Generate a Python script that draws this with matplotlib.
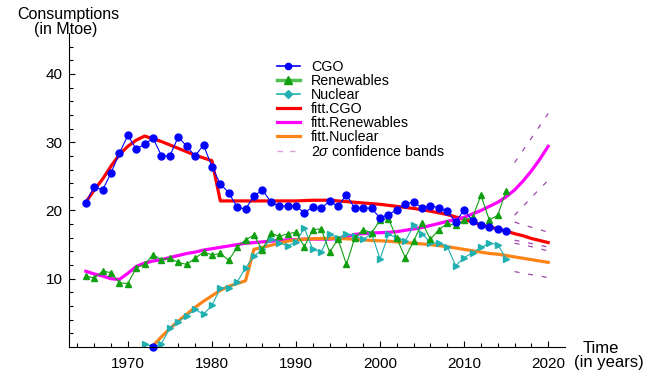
import numpy as np
import matplotlib
matplotlib.use('Agg')
import matplotlib.pyplot as plt
from matplotlib.lines import Line2D

plt.rcParams.update({'font.family': 'Liberation Sans', 'mathtext.fontset': 'custom',
                     'mathtext.rm': 'Liberation Sans', 'mathtext.it': 'Liberation Sans:italic'})

# Observed consumptions, 1965-2015
years = np.arange(1965, 2016)
cgo = [21.1, 23.5, 23.0, 25.5, 28.4, 31.0, 29.0, 29.7, 30.6, 28.0,
       28.0, 30.8, 29.4, 28.0, 29.6, 26.4, 23.9, 22.6, 20.5, 20.2,
       22.1, 23.0, 21.3, 20.6, 20.7, 20.6, 19.7, 20.5, 20.3, 21.4,
       20.6, 22.3, 20.3, 20.4, 20.3, 18.9, 19.4, 20.1, 21.0, 21.2,
       20.4, 20.7, 20.4, 19.9, 18.3, 20.1, 18.5, 17.8, 17.6, 17.3, 17.0]
renew = [10.4, 10.1, 11.1, 10.9, 9.4, 9.3, 11.6, 12.1, 13.5, 12.8,
         13.0, 12.4, 12.1, 13.0, 13.9, 13.5, 13.7, 12.7, 14.6, 15.7,
         16.4, 14.2, 16.7, 16.2, 16.6, 16.8, 14.7, 17.2, 17.3, 13.9,
         15.8, 12.1, 16.0, 17.2, 16.7, 18.6, 18.8, 15.9, 13.1, 15.5,
         18.2, 15.8, 17.2, 18.1, 17.8, 18.6, 19.0, 22.2, 18.6, 19.3, 22.9]
nuc_years = np.arange(1972, 2016)
nuclear = [0.5, 0.0, 0.5, 2.8, 3.7, 4.6, 5.5, 4.8, 6.1, 8.6,
           8.7, 9.5, 11.6, 13.3, 14.3, 15.8, 15.3, 14.8, 15.4, 17.4,
           14.3, 13.9, 16.5, 16.0, 16.6, 16.2, 15.8, 16.6, 12.9, 16.5,
           16.0, 15.5, 17.8, 16.6, 15.3, 15.2, 14.7, 11.9, 13.1, 13.8,
           14.6, 15.2, 15.0, 12.9]
odd_year = [1973]
odd_val = [0.0]

# Fitted curves, 1965-2020
fit_years = np.arange(1965, 2021)
fit_cgo = [21.2, 23.0, 24.6, 26.5, 28.2, 29.4, 30.3, 30.9, 30.5, 30.1,
           29.6, 29.1, 28.6, 28.1, 27.7, 27.3, 21.4, 21.4, 21.4, 21.4,
           21.4, 21.4, 21.4, 21.4, 21.4, 21.4, 21.45, 21.5, 21.5, 21.5,
           21.4, 21.3, 21.2, 21.1, 21.0, 20.9, 20.75, 20.6, 20.45, 20.3,
           20.1, 19.9, 19.65, 19.4, 19.05, 18.7, 18.3, 17.9, 17.6, 17.3,
           17.0, 16.6, 16.3, 15.9, 15.6, 15.3]
fit_renew = [11.1, 10.7, 10.4, 10.0, 9.9, 10.8, 11.8, 12.3, 12.6, 12.8,
             13.1, 13.4, 13.7, 13.9, 14.2, 14.4, 14.6, 14.8, 15.0, 15.2,
             15.3, 15.4, 15.5, 15.6, 15.7, 15.75, 15.8, 15.8, 15.8, 15.8,
             15.9, 16.1, 16.5, 16.6, 16.7, 16.75, 16.8, 16.9, 17.1, 17.3,
             17.5, 17.8, 18.1, 18.4, 18.7, 19.0, 19.5, 20.0, 20.6, 21.2,
             22.0, 23.0, 24.3, 25.8, 27.5, 29.4]
fit_nuc_years = np.arange(1973, 2021)
fit_nuc = [0.2, 1.5, 2.7, 3.8, 4.8, 5.8, 6.7, 7.5, 8.3, 8.9,
           9.3, 9.7, 14.3, 14.6, 14.9, 15.2, 15.5, 15.7, 15.8, 15.85,
           15.9, 15.9, 15.9, 15.85, 15.8, 15.7, 15.6, 15.55, 15.5, 15.4,
           15.3, 15.2, 15.1, 15.0, 14.85, 14.7, 14.5, 14.3, 14.1, 13.9,
           13.7, 13.6, 13.4, 13.2, 13.0, 12.8, 12.6, 12.4]

# 2 sigma confidence bands, 2016-2020
band_years = np.arange(2016, 2021)
cgo_up = [18.3, 17.9, 17.55, 17.2, 16.8]
cgo_lo = [15.65, 15.4, 15.15, 14.9, 14.65]
renew_up = [27.0, 28.8, 30.6, 32.4, 34.2]
renew_lo = [19.3, 20.6, 21.9, 23.2, 24.4]
nuc_up = [15.2, 14.95, 14.7, 14.4, 14.05]
nuc_lo = [11.05, 10.8, 10.6, 10.4, 10.15]

c_cgo, c_ren, c_nuc = '#0000ff', '#10a010', '#20b0b0'
c_fcgo, c_fren, c_fnuc, c_band = '#ff0000', '#ff00ff', '#ff8418', '#a048b0'

fig = plt.figure(figsize=(6.49, 3.77), dpi=100)
ax = fig.add_axes([69/649, 1-347/377, 496/649, 314/377])

ax.plot(fit_years, fit_cgo, color=c_fcgo, lw=2.3)
ax.plot(fit_years, fit_renew, color=c_fren, lw=2.3)
ax.plot(fit_nuc_years, fit_nuc, color=c_fnuc, lw=2.3)
for b in [cgo_up, cgo_lo, renew_up, renew_lo, nuc_up, nuc_lo]:
    ax.plot(band_years, b, color=c_band, lw=0.9, ls=(0, (4, 7)))

ax.plot(nuc_years, nuclear, color=c_nuc, lw=0.8, marker='>', ms=4, mec=c_nuc, mfc=c_nuc)
ax.plot(years, renew, color=c_ren, lw=0.8, marker='^', ms=5, mec=c_ren, mfc=c_ren)
ax.plot(years, cgo, color=c_cgo, lw=0.8, marker='o', ms=5)
ax.plot(odd_year, odd_val, ls='none', color=c_cgo, marker='o', ms=5, clip_on=False)

ax.set_xlim(1963, 2022)
ax.set_ylim(0, 46)
ax.set_xticks([1970, 1980, 1990, 2000, 2010, 2020])
ax.set_xticks(np.arange(1964, 2022, 2), minor=True)
ax.set_yticks([10, 20, 30, 40])
ax.set_yticks(np.arange(2, 46, 2), minor=True)
ax.tick_params(which='both', direction='in', width=0.8, labelsize=11)
ax.tick_params(which='major', length=4.5)
ax.tick_params(which='minor', length=3)
ax.tick_params(axis='x', pad=7.5)
ax.tick_params(axis='y', pad=4.5)
for s in ['top', 'right']:
    ax.spines[s].set_visible(False)
for s in ['left', 'bottom']:
    ax.spines[s].set_linewidth(0.8)

fig.text(68/649, 1-19.5/377, 'Consumptions', ha='center', va='baseline', fontsize=11.5)
fig.text(66/649, 1-34/377, '(in Mtoe)', ha='center', va='baseline', fontsize=11.5)
fig.text(582.7/649, 1-353.3/377, 'Time', ha='left', va='baseline', fontsize=12)
fig.text(574.3/649, 1-367.5/377, '(in years)', ha='left', va='baseline', fontsize=12)

handles = [
    Line2D([], [], color=c_cgo, lw=1.2, marker='o', ms=4.5),
    Line2D([], [], color='#50c050', lw=2.5, marker='^', ms=6, mfc=c_ren, mec=c_ren),
    Line2D([], [], color=c_nuc, lw=1.2, marker='D', ms=4.5),
    Line2D([], [], color=c_fcgo, lw=2.3),
    Line2D([], [], color=c_fren, lw=2.3),
    Line2D([], [], color=c_fnuc, lw=2.3),
    Line2D([], [], color='#d8a0d8', lw=1, ls=(0, (4, 5))),
]
labels = ['CGO', 'Renewables', 'Nuclear', 'fitt.CGO', 'fitt.Renewables',
          'fitt.Nuclear', r'2$\sigma$ confidence bands']
fig.legend(handles, labels, loc='upper left', bbox_to_anchor=(277/649, 1-60/377),
           frameon=False, fontsize=10.3, borderpad=0, borderaxespad=0,
           labelspacing=0.0, handlelength=1.58, handletextpad=0.8)

fig.savefig('out.png', dpi=100)
